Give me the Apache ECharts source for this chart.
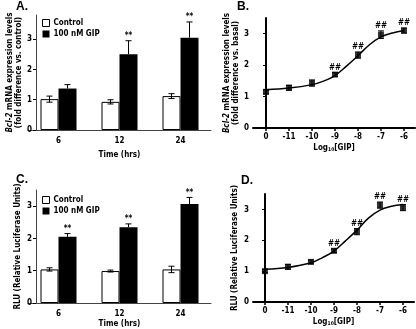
<!DOCTYPE html>
<html>
<head>
<meta charset="utf-8">
<script src="https://cdn.jsdelivr.net/npm/echarts@6/dist/echarts.min.js"></script>
<style>
  html, body { margin: 0; padding: 0; background: #fff; }
  #fig { width: 416px; height: 329px; }
</style>
</head>
<body>
<div id="fig"></div>
<script>
// panels A and C: time course (bars)
var timeCats = ['6', '12', '24'];
var ctrlA = [1.02, 0.93, 1.12];
var ctrlAErr = [0.1, 0.07, 0.08];
var gipA = [1.37, 2.5, 3.05];
var gipAErr = [0.13, 0.45, 0.52];
var sigA = ['', '**', '**'];

var ctrlC = [1.04, 0.99, 1.04];
var ctrlCErr = [0.05, 0.03, 0.1];
var gipC = [2.05, 2.35, 3.07];
var gipCErr = [0.1, 0.1, 0.2];
var sigC = ['**', '**', '**'];

// panels B and D: dose response
var doseLabels = ['0', '-11', '-10', '-9', '-8', '-7', '-6'];
var meanB = [1.15, 1.28, 1.43, 1.7, 2.32, 2.97, 3.1];
var errB = [0.06, 0.08, 0.1, 0.06, 0.1, 0.12, 0.08];
var sigB = ['', '', '', '##', '##', '##', '##'];
var meanD = [1.0, 1.14, 1.3, 1.66, 2.28, 3.14, 3.06];
var errD = [0.05, 0.08, 0.06, 0.06, 0.1, 0.1, 0.1];
var sigD = ['', '', '', '##', '##', '##', '##'];

// fitted curves
var curveX = [0, 1, 2, 2.5, 3, 3.5, 4, 4.5, 5, 5.5, 6];
var curveB = [1.22, 1.27, 1.38, 1.49, 1.67, 1.97, 2.3, 2.65, 2.9, 3.02, 3.1];
var curveD = [1.06, 1.12, 1.27, 1.44, 1.65, 1.98, 2.33, 2.72, 2.98, 3.1, 3.16];

var FONT = 'DejaVu Sans Condensed, DejaVu Sans, sans-serif';

function zip(a, b) {
    return a.map(function (v, i) { return [i, v, b[i]]; });
}
function pairs(xs, ys) {
    return xs.map(function (v, i) { return [v, ys[i]]; });
}

function errRender(shift, both, sig) {
    return function (params, api) {
        var i = api.value(0), v = api.value(1), e = api.value(2);
        var t = api.coord([i, v + e]);
        var b = api.coord([i, both ? v - e : v]);
        var x = t[0] + shift;
        var st = { stroke: '#000', lineWidth: 1 };
        var kids = [
            { type: 'line', shape: { x1: x, y1: t[1], x2: x, y2: b[1] }, style: st },
            { type: 'line', shape: { x1: x - 3, y1: t[1], x2: x + 3, y2: t[1] }, style: st }
        ];
        if (both) {
            kids.push({ type: 'line', shape: { x1: x - 3, y1: b[1], x2: x + 3, y2: b[1] }, style: st });
        }
        var s = sig[params.dataIndex];
        if (s) {
            kids.push({
                type: 'text',
                style: { text: s, x: x, y: t[1] - 1, align: 'center', verticalAlign: 'bottom',
                    fill: '#000', font: 'bold 8px ' + FONT }
            });
        }
        return { type: 'group', children: kids };
    };
}

function catX(gi, name, nameGap) {
    return {
        type: 'category', gridIndex: gi, data: timeCats,
        name: name, nameLocation: 'middle', nameGap: nameGap,
        nameTextStyle: { fontFamily: FONT, fontWeight: 'bold', fontSize: 8, color: '#000' },
        axisLine: { lineStyle: { color: '#444', width: 1 } },
        axisTick: { length: 3, lineStyle: { color: '#444' } },
        axisLabel: { fontFamily: FONT, fontWeight: 'bold', fontSize: 8, color: '#000', margin: 7 }
    };
}

function doseX(gi, min) {
    return {
        type: 'value', gridIndex: gi, min: min, max: 6.48,
        name: 'Log{s|10}[GIP]', nameLocation: 'middle', nameGap: 15,
        nameTextStyle: { fontFamily: FONT, fontWeight: 'bold', fontSize: 8, color: '#000',
            rich: { s: { fontFamily: FONT, fontWeight: 'bold', fontSize: 5, padding: [4, 0, 0, 0] } } },
        splitLine: { show: false },
        axisLine: { lineStyle: { color: '#000', width: 2 } },
        axisTick: { length: 3, lineStyle: { color: '#000', width: 1.5 }, customValues: [0, 1, 2, 3, 4, 5, 6] },
        axisLabel: { fontFamily: FONT, fontWeight: 'bold', fontSize: 8, color: '#000', margin: 5,
            customValues: [0, 1, 2, 3, 4, 5, 6],
            formatter: function (v) { return doseLabels[Math.round(v)]; } }
    };
}

function valY(gi, max, name, nameGap, offset, thick) {
    return {
        type: 'value', gridIndex: gi, min: 0, max: max, offset: offset,
        name: name, nameLocation: 'middle', nameGap: nameGap,
        nameTextStyle: { fontFamily: FONT, fontWeight: 'bold', fontSize: 8, color: '#000', lineHeight: 9,
            rich: { i: { fontFamily: FONT, fontWeight: 'bold', fontStyle: 'italic', fontSize: 8, color: '#000' } } },
        splitLine: { show: false },
        axisLine: { show: true, lineStyle: { color: thick ? '#000' : '#444', width: thick ? 2 : 1 } },
        axisTick: { show: true, length: 3, customValues: [0, 1, 2, 3], lineStyle: { color: '#000' } },
        axisLabel: { fontFamily: FONT, fontWeight: 'bold', fontSize: 8, color: '#000', margin: 4,
            customValues: [0, 1, 2, 3] }
    };
}

function barPair(gi, ctrl, ctrlErr, gip, gipErr, sig) {
    return [
        { type: 'bar', name: 'Control', xAxisIndex: gi, yAxisIndex: gi, data: ctrl, barWidth: 18, barGap: '0%',
          itemStyle: { color: '#fff', borderColor: '#000', borderWidth: 1 } },
        { type: 'bar', name: '100 nM GIP', xAxisIndex: gi, yAxisIndex: gi, data: gip, barWidth: 18,
          itemStyle: { color: '#000' } },
        { type: 'custom', xAxisIndex: gi, yAxisIndex: gi, data: zip(ctrl, ctrlErr), z: 5,
          renderItem: errRender(-9, true, ['', '', '']) },
        { type: 'custom', xAxisIndex: gi, yAxisIndex: gi, data: zip(gip, gipErr), z: 5,
          renderItem: errRender(9, false, sig) }
    ];
}

function dosePanel(gi, mean, err, sig, curve) {
    return [
        { type: 'line', xAxisIndex: gi, yAxisIndex: gi, data: pairs(curveX, curve), smooth: 0.4,
          showSymbol: false, lineStyle: { color: '#000', width: 1.5 } },
        { type: 'custom', xAxisIndex: gi, yAxisIndex: gi, z: 5,
          data: mean.map(function (v, i) { return [i, v, err[i]]; }),
          renderItem: errRender(0, true, sig) },
        { type: 'scatter', xAxisIndex: gi, yAxisIndex: gi, z: 6, symbol: 'rect', symbolSize: 6,
          data: pairs([0, 1, 2, 3, 4, 5, 6], mean), itemStyle: { color: '#000' } }
    ];
}

var legendItems = [
    { name: 'Control', itemStyle: { color: '#fff', borderColor: '#000', borderWidth: 1 } },
    { name: '100 nM GIP', itemStyle: { color: '#000' } }
];
function legendAt(top) {
    return {
        orient: 'vertical', left: 37, top: top, itemGap: 3, itemWidth: 7, itemHeight: 7,
        icon: 'rect', data: legendItems, selectedMode: false,
        textStyle: { fontFamily: FONT, fontWeight: 'bold', fontSize: 8, color: '#000', padding: [0, 0, 0, -1] }
    };
}

function panelTitle(t, left, top) {
    return { text: t, left: left, top: top, padding: 0,
        textStyle: { fontFamily: 'Liberation Sans, sans-serif', fontWeight: 'bold', fontSize: 12, color: '#000' } };
}

var option = {
    animation: false,
    backgroundColor: '#fff',
    title: [
        panelTitle('A.', 16, 1),
        panelTitle('B.', 237, 1),
        panelTitle('C.', 16, 174),
        panelTitle('D.', 241, 175)
    ],
    legend: [legendAt(14), legendAt(191)],
    grid: [
        { left: 28, width: 183, top: 15, height: 115 },
        { left: 253, width: 162, top: 18, height: 110 },
        { left: 28, width: 183, top: 190, height: 115 },
        { left: 253, width: 161, top: 194, height: 108 }
    ],
    xAxis: [
        catX(0, 'Time (hrs)', 21),
        doseX(1, -0.565),
        catX(2, 'Time (hrs)', 17),
        doseX(3, -0.52)
    ],
    yAxis: [
        valY(0, 3.8, '{i|Bcl-2} mRNA expression levels\n(fold difference vs. control)', 12, -8, false),
        valY(1, 3.5, '{i|Bcl-2} mRNA expression levels\n(fold difference vs. basal)', 12, 0, true),
        valY(2, 3.5, 'RLU (Relative Luciferase Units)', 14, -8, false),
        valY(3, 3.5, 'RLU (Relative Luciferase Units)', 14, 0, true)
    ],
    series: [].concat(
        barPair(0, ctrlA, ctrlAErr, gipA, gipAErr, sigA),
        dosePanel(1, meanB, errB, sigB, curveB),
        barPair(2, ctrlC, ctrlCErr, gipC, gipCErr, sigC),
        dosePanel(3, meanD, errD, sigD, curveD)
    )
};

var chart = echarts.init(document.getElementById('fig'));
chart.setOption(option);
</script>
</body>
</html>
